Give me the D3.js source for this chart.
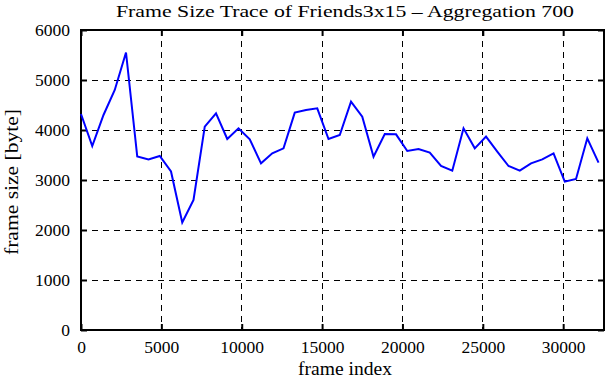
<!DOCTYPE html>
<html><head><meta charset="utf-8">
<script src="https://cdn.jsdelivr.net/npm/d3@7"></script>
<style>body{margin:0;background:#fff}svg{display:block}</style>
</head><body>
<script>
const step = 700;
const frameSizes = [4320,3680,4300,4800,5550,3470,3410,3480,3170,2150,2600,4067,4333,3820,4033,3813,
3333,3533,3633,4347,4400,4433,3820,3900,4567,4267,3467,3920,3913,3580,3620,3547,
3280,3187,4033,3633,3867,3567,3280,3187,3333,3413,3533,2967,3020,3833,3347];
const xTicks = [0,5000,10000,15000,20000,25000,30000];
const yTicks = [0,1000,2000,3000,4000,5000,6000];
const title = "Frame Size Trace of Friends3x15 \u2013 Aggregation 700";
const xLabel = "frame index", yLabel = "frame size [byte]";

const W=611,H=380, L=81, R=604, T=30, B=330;
const svg=d3.select("body").append("svg").attr("width",W).attr("height",H);
const x=d3.scaleLinear().domain([0,32540]).range([L,R]);
const y=d3.scaleLinear().domain([0,6000]).range([B,T]);
const font="Liberation Serif, Times New Roman, serif";

// grid
const g=svg.append("g");
xTicks.filter(t=>t>0).forEach(t=>g.append("line").attr("x1",x(t)).attr("x2",x(t)).attr("y1",T).attr("y2",B)
  .attr("stroke","#000").attr("stroke-width",1).attr("stroke-dasharray","6,5").attr("shape-rendering","crispEdges"));
yTicks.filter(t=>t>0&&t<6000).forEach(t=>g.append("line").attr("x1",L).attr("x2",R).attr("y1",y(t)).attr("y2",y(t))
  .attr("stroke","#000").attr("stroke-width",1).attr("stroke-dasharray","6,5").attr("shape-rendering","crispEdges"));

// axes
const ax=d3.axisBottom(x).tickValues(xTicks).tickSize(-6).tickPadding(11).tickFormat(d3.format("d"));
const ay=d3.axisLeft(y).tickValues(yTicks).tickSize(-6).tickPadding(11).tickFormat(d3.format("d"));
const ax2=d3.axisTop(x).tickValues(xTicks).tickSize(-6).tickFormat("");
const ay2=d3.axisRight(y).tickValues(yTicks).tickSize(-6).tickFormat("");
[[ax,`translate(0,${B})`],[ay,`translate(${L},0)`],[ax2,`translate(0,${T})`],[ay2,`translate(${R},0)`]].forEach(([a,tr])=>{
  const s=svg.append("g").attr("transform",tr).call(a);
  s.select(".domain").remove();
  s.selectAll("line").attr("stroke","#000").attr("stroke-width",2);
  s.selectAll("text").attr("font-family",font).attr("font-size",17.5).attr("fill","#000");
});
svg.append("rect").attr("x",L).attr("y",T).attr("width",R-L).attr("height",B-T)
  .attr("fill","none").attr("stroke","#000").attr("stroke-width",2);

// line
svg.append("path").datum(frameSizes).attr("fill","none").attr("stroke","#0000ff").attr("stroke-width",2)
  .attr("d",d3.line().x((d,i)=>x(i*step)).y(d=>y(d)));

// texts
svg.append("text").attr("x",345).attr("y",17).attr("text-anchor","middle")
  .attr("font-family",font).attr("font-size",17).attr("textLength",458).attr("lengthAdjust","spacingAndGlyphs").text(title);
svg.append("text").attr("x",345).attr("y",375).attr("text-anchor","middle")
  .attr("font-family",font).attr("font-size",18).attr("textLength",94).attr("lengthAdjust","spacingAndGlyphs").text(xLabel);
svg.append("text").attr("transform",`translate(18,182) rotate(-90)`).attr("text-anchor","middle")
  .attr("font-family",font).attr("font-size",18).attr("textLength",146).attr("lengthAdjust","spacingAndGlyphs").text(yLabel);
</script>
</body></html>
